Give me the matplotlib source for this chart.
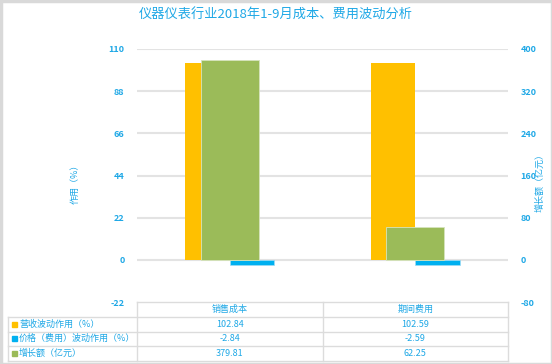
import matplotlib
matplotlib.use("Agg")
import matplotlib.pyplot as plt
from matplotlib.lines import Line2D
from matplotlib.patches import Rectangle

plt.rcParams['font.family'] = ['Noto Sans CJK SC', 'DejaVu Sans']

title = "仪器仪表行业2018年1-9月成本、费用波动分析"
categories = ["销售成本", "期间费用"]
series_names = ["营收波动作用（%）", "价格（费用）波动作用（%）", "增长额（亿元）"]
revenue_effect = [102.84, 102.59]
price_effect = [-2.84, -2.59]
growth = [379.81, 62.25]
left_ticks = [-22, 0, 22, 44, 66, 88, 110]
right_ticks = [-80, 0, 80, 160, 240, 320, 400]
left_label = "作用（%）"
right_label = "增长额（亿元）"

W, H = 552, 364
BLUE_TXT = "#1fa8e6"
C_ORANGE = "#FFC000"
C_BLUE = "#00B0F0"
C_GREEN = "#9BBB59"
GRID = "#e3e3e3"

fig = plt.figure(figsize=(W / 100, H / 100), dpi=100)
fig.patch.set_facecolor("white")

def fx(px):
    return px / W

def fy(py):
    return 1 - py / H

ax_l, ax_r, ax_t, ax_b = 137, 508, 49, 302
ax = fig.add_axes([fx(ax_l), fy(ax_b), (ax_r - ax_l) / W, (ax_b - ax_t) / H])
ax2 = ax.twinx()

x = list(range(len(categories)))
bw = 0.24
ax.bar([xi - bw / 2 for xi in x], revenue_effect, width=bw, color=C_ORANGE, zorder=2)
ax.bar([xi + bw / 2 for xi in x], price_effect, width=bw, color=C_BLUE, zorder=2,
       edgecolor="#9fdcf5", linewidth=0.5)
ax2.bar(x, growth, width=0.31, color=C_GREEN, zorder=3, edgecolor="#d6e4bd", linewidth=0.6)

ax.set_xlim(-0.5, len(categories) - 0.5)
ax.set_ylim(left_ticks[0], left_ticks[-1])
ax2.set_ylim(right_ticks[0], right_ticks[-1])
ax.set_yticks(left_ticks)
ax2.set_yticks(right_ticks)
ax.set_xticks([])
for a in (ax, ax2):
    for s in a.spines.values():
        s.set_visible(False)
    a.tick_params(axis="y", length=0, labelsize=6.5, labelcolor=BLUE_TXT, pad=9)
    a.set_facecolor("none")
ax.set_yticklabels([str(t) for t in left_ticks], fontweight="bold")
ax2.set_yticklabels([str(t) for t in right_ticks], fontweight="bold")
for t in left_ticks[1:]:
    ax.axhline(t, color=GRID, linewidth=1.5, zorder=1)
ax.set_axisbelow(True)
ax2.set_zorder(ax.get_zorder() + 1)

fig.text(fx(75), fy(182), left_label, rotation=90, ha="center", va="center",
         fontsize=6.5, color=BLUE_TXT)
fig.text(fx(540), fy(180), right_label, rotation=90, ha="center", va="center",
         fontsize=6.5, color=BLUE_TXT)

fig.text(0.5, fy(15), title, ha="center", va="center", fontsize=9.5, color=BLUE_TXT,
         fontweight="medium")

# data table
col_x = [137, 322.5, 508]
row_y = [302, 317, 331.5, 346, 361]
lc = "#dcdcdc"
def hline(y, x0, x1):
    fig.add_artist(Line2D([fx(x0), fx(x1)], [fy(y), fy(y)], color=lc, linewidth=1.0))
def vline(xp, y0, y1):
    fig.add_artist(Line2D([fx(xp), fx(xp)], [fy(y0), fy(y1)], color=lc, linewidth=1.0))

hline(row_y[0], col_x[0], col_x[-1])
for y in row_y[1:]:
    hline(y, 8, col_x[-1])
for xp in col_x:
    vline(xp, row_y[0], row_y[-1])
vline(8, row_y[1], row_y[-1])

for i, c in enumerate(categories):
    cx = (col_x[i] + col_x[i + 1]) / 2
    fig.text(fx(cx), fy((row_y[0] + row_y[1]) / 2), c, ha="center", va="center",
             fontsize=6.5, color=BLUE_TXT)

rows = [revenue_effect, price_effect, growth]
colors = [C_ORANGE, C_BLUE, C_GREEN]
for r, (name, vals, col) in enumerate(zip(series_names, rows, colors)):
    yc = (row_y[r + 1] + row_y[r + 2]) / 2
    fig.add_artist(Rectangle((fx(11.5), fy(yc + 2.5)), 5 / W, 5 / H, color=col,
                             transform=fig.transFigure))
    fig.text(fx(19), fy(yc), name, ha="left", va="center", fontsize=6.5, color=BLUE_TXT)
    for i, v in enumerate(vals):
        cx = (col_x[i] + col_x[i + 1]) / 2
        fig.text(fx(cx), fy(yc), f"{v:.2f}", ha="center", va="center",
                 fontsize=6.5, color=BLUE_TXT)

# outer frame
fig.add_artist(Rectangle((0.5 / W, 0.5 / H), (W - 1) / W, (H - 1) / H, fill=False,
                         edgecolor="#d9d9d9", linewidth=2.5, transform=fig.transFigure))

fig.savefig("out.png", dpi=100, facecolor="white")
